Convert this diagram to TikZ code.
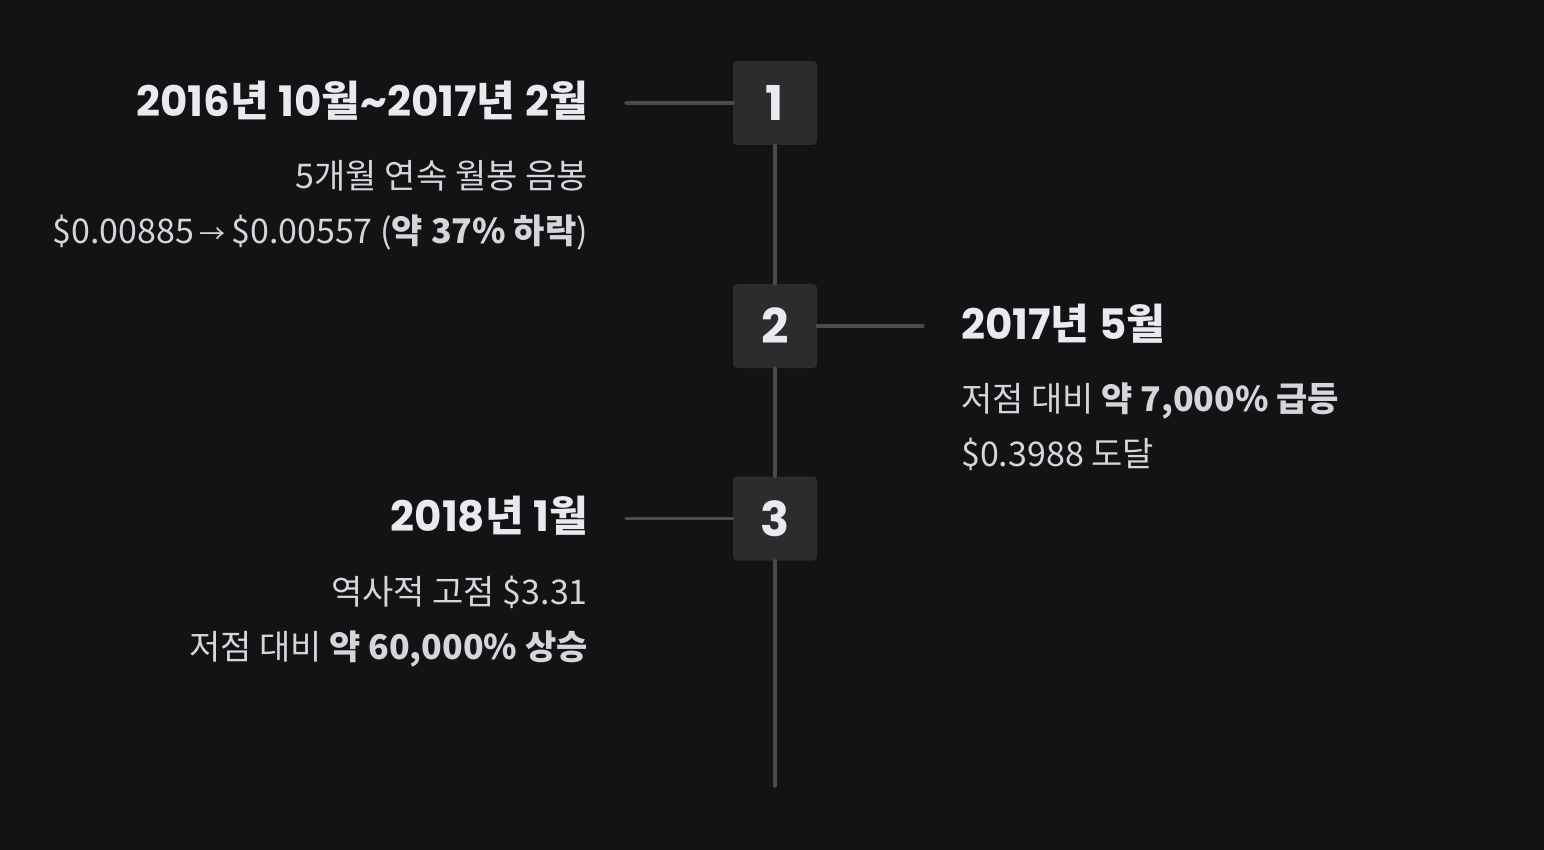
\documentclass[tikz,border=0pt]{standalone}
\usepackage{fontspec}
\setmainfont{Noto Sans CJK KR}
\newfontfamily\pop{Poppins}
\definecolor{bg}{HTML}{121315}
\definecolor{boxc}{HTML}{2C2C2E}
\definecolor{linec}{HTML}{4B4B4D}
\definecolor{titlec}{HTML}{E8EAED}
\definecolor{bodyc}{HTML}{D4D6D9}
\newcommand\pn[1]{{\pop #1}}
\begin{document}
\begin{tikzpicture}[x=1pt,y=-1pt,
  numbox/.style={fill=boxc, rounded corners=4pt, minimum width=84pt, minimum height=84pt, inner sep=0pt, text=titlec, font=\pop\bfseries\fontsize{48}{48}\selectfont},
  conn/.style={draw=linec, line width=3.2pt, line cap=round},
  ttl/.style={text=titlec, inner sep=0pt, font=\bfseries\fontsize{42}{50}\selectfont},
  bodytxt/.style={text=bodyc, inner sep=0pt, font=\fontsize{34}{40}\selectfont}]
\fill[bg] (0,0) rectangle (1544,850);
\useasboundingbox (0,0) rectangle (1544,850);
% boxes
\node[numbox] (b1) at (775,103) {1};
\node[numbox] (b2) at (775,326) {2};
\node[numbox] (b3) at (775,518.5) {3};
\coordinate (end) at (775,786);
\coordinate (c1) at (626,103);
\coordinate (c2) at (923,326);
\coordinate (c3) at (626,518.5);
\draw[conn] (b1.south) -- (b2.north);
\draw[conn] (b2.south) -- (b3.north);
\draw[conn] (b3.south) -- (end);
\draw[conn] (c1) -- (b1.west);
\draw[conn] (b2.east) -- (c2);
\draw[conn] (c3) -- (b3.west);
% event 1
\node[ttl, anchor=base east] (t1) at (588,117) {\pn{2016}년 \pn{10}월\pn{\char`~2017}년 \pn{2}월};
\node[bodytxt, anchor=base east] (d1a) at (588,189) {5개월 연속 월봉 음봉};
\node[bodytxt, anchor=base east] (d1b) at (588,244) {\$0.00885\,{\fontsize{26}{30}\selectfont →}\,\$0.00557 (\textbf{약 37\% 하락})};
% event 2
\node[ttl, anchor=base west] (t2) at (961,339) {\pn{2017}년 \pn{5}월};
\node[bodytxt, anchor=base west] (d2a) at (961,411) {저점 대비 \textbf{약 7,000\% 급등}};
\node[bodytxt, anchor=base west] (d2b) at (961,466) {\$0.3988 도달};
% event 3
\node[ttl, anchor=base east] (t3) at (588,531) {\pn{2018}년 \pn{1}월};
\node[bodytxt, anchor=base east] (d3a) at (588,604) {역사적 고점 \$3.31};
\node[bodytxt, anchor=base east] (d3b) at (588,659) {저점 대비 \textbf{약 60,000\% 상승}};
\end{tikzpicture}
\end{document}
